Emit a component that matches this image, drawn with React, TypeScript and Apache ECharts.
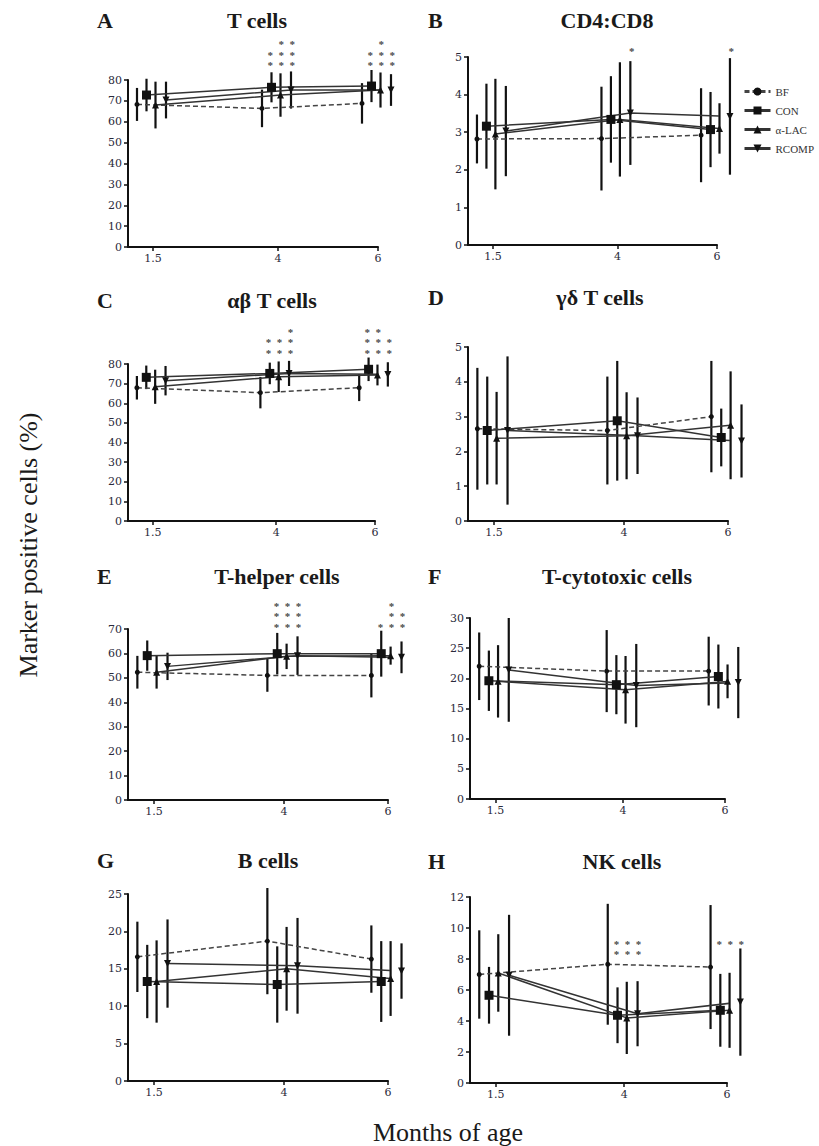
import React, { useEffect, useRef } from 'react';
import * as echarts from 'echarts';

// ---------- data ----------
const months = [1.5, 4, 6];
const monthTicks = [1.5, 4, 6];
const groups = ['BF', 'CON', 'α-LAC', 'RCOMP'];

// each: rows = [BF, CON, α-LAC, RCOMP], columns = 1.5, 4, 6 months
const tCellsMean = [[68.3, 66.4, 68.8], [72.8, 76.5, 77.1], [68.0, 72.8, 75.2], [70.4, 75.2, 75.2]];
const tCellsSD = [[7.9, 9.0, 9.7], [7.8, 7.2, 7.7], [11.2, 10.4, 8.4], [8.8, 8.9, 7.6]];

const cd4cd8Mean = [[2.82, 2.83, 2.92], [3.16, 3.34, 3.07], [2.95, 3.34, 3.1], [3.03, 3.51, 3.42]];
const cd4cd8SD = [[0.65, 1.38, 1.25], [1.13, 1.15, 1.0], [1.47, 1.52, 0.67], [1.2, 1.38, 1.55]];

const abMean = [[67.9, 65.4, 67.9], [73.2, 75.2, 77.3], [68.4, 73.5, 74.4], [71.5, 75.2, 74.7]];
const abSD = [[6.0, 8.0, 6.8], [6.0, 5.5, 6.0], [8.7, 7.8, 5.3], [7.5, 6.4, 6.2]];

const gdMean = [[2.65, 2.6, 3.0], [2.6, 2.88, 2.4], [2.38, 2.45, 2.75], [2.6, 2.45, 2.3]];
const gdSD = [[1.75, 1.55, 1.6], [1.55, 1.72, 0.83], [1.33, 1.25, 1.55], [2.13, 1.1, 1.05]];

const thMean = [[52.3, 51.0, 51.0], [59.1, 59.9, 59.9], [52.3, 58.8, 59.1], [54.7, 59.1, 58.4]];
const thSD = [[6.7, 6.7, 9.0], [6.2, 8.5, 9.4], [6.7, 5.2, 3.7], [5.6, 7.9, 6.5]];

const tcMean = [[22.0, 21.2, 21.2], [19.6, 18.95, 20.3], [19.5, 18.1, 19.5], [21.4, 18.8, 19.3]];
const tcSD = [[5.6, 6.8, 5.7], [5.0, 4.9, 5.3], [6.0, 5.6, 2.8], [8.6, 6.9, 5.9]];

const bMean = [[16.6, 18.7, 16.3], [13.3, 12.9, 13.3], [13.3, 15.0, 13.7], [15.7, 15.4, 14.7]];
const bSD = [[4.7, 7.1, 4.5], [4.9, 5.1, 5.4], [5.5, 5.6, 5.0], [5.9, 6.4, 3.7]];

const nkMean = [[7.0, 7.66, 7.48], [5.66, 4.37, 4.69], [7.1, 4.2, 4.69], [6.95, 4.47, 5.22]];
const nkSD = [[2.85, 3.9, 4.0], [1.83, 1.8, 2.35], [2.5, 2.33, 2.42], [3.9, 2.1, 3.46]];

// significance vs BF: [month, value of lowest star row, stars CON, stars α-LAC, stars RCOMP]
const tCellsStars = [[4, 88.3, 2, 3, 3], [6, 88.3, 2, 3, 2]];
const cd4cd8Stars = [[4, 5.22, 0, 0, 1], [6, 5.22, 0, 0, 1]];
const abStars = [[4, 87.1, 2, 2, 3], [6, 87.1, 3, 3, 2]];
const thStars = [[4, 72.1, 3, 3, 3], [6, 72.1, 1, 3, 2]];
const nkStars = [[4, 8.5, 2, 2, 2], [6, 9.16, 1, 1, 1]];
const noStars: number[][] = [];

// ---------- layout / style ----------
const groupOffsets = [-0.32, -0.13, 0.05, 0.26];
const SERIF = 'Liberation Serif';
const EN_SPACE = '\u2002';

const panels = [
  { letter: 'A', title: 'T cells', grid: { left: 128, top: 80, width: 250, height: 167 }, ymax: 80, yint: 10, mean: tCellsMean, sd: tCellsSD, stars: tCellsStars, tx: 257, ty: 20, lx: 97 },
  { letter: 'B', title: 'CD4:CD8', grid: { left: 468, top: 57, width: 249, height: 188 }, ymax: 5, yint: 1, mean: cd4cd8Mean, sd: cd4cd8SD, stars: cd4cd8Stars, tx: 607, ty: 20, lx: 428 },
  { letter: 'C', title: 'αβ T cells', grid: { left: 128, top: 364, width: 247, height: 157 }, ymax: 80, yint: 10, mean: abMean, sd: abSD, stars: abStars, tx: 272, ty: 300, lx: 97 },
  { letter: 'D', title: 'γδ T cells', grid: { left: 468, top: 347, width: 260, height: 174 }, ymax: 5, yint: 1, mean: gdMean, sd: gdSD, stars: noStars, tx: 600, ty: 297, lx: 428 },
  { letter: 'E', title: 'T-helper cells', grid: { left: 128, top: 629, width: 260, height: 171 }, ymax: 70, yint: 10, mean: thMean, sd: thSD, stars: thStars, tx: 277, ty: 576, lx: 97 },
  { letter: 'F', title: 'T-cytotoxic cells', grid: { left: 470, top: 618, width: 255, height: 181 }, ymax: 30, yint: 5, mean: tcMean, sd: tcSD, stars: noStars, tx: 617, ty: 576, lx: 428 },
  { letter: 'G', title: 'B cells', grid: { left: 128, top: 894, width: 260, height: 187 }, ymax: 25, yint: 5, mean: bMean, sd: bSD, stars: noStars, tx: 268, ty: 860, lx: 97 },
  { letter: 'H', title: 'NK cells', grid: { left: 470, top: 897, width: 257, height: 186 }, ymax: 12, yint: 2, mean: nkMean, sd: nkSD, stars: nkStars, tx: 622, ty: 861, lx: 428 },
];

const symbols = [
  { symbol: 'circle', size: 5, rotate: 0 },
  { symbol: 'rect', size: 9, rotate: 0 },
  { symbol: 'triangle', size: 7, rotate: 0 },
  { symbol: 'triangle', size: 7, rotate: 180 },
];

function errorBar(params: any, api: any) {
  const x = api.value(0);
  const p1 = api.coord([x, api.value(1)]);
  const p2 = api.coord([x, api.value(2)]);
  return {
    type: 'line',
    shape: { x1: p1[0], y1: p1[1], x2: p2[0], y2: p2[1] },
    style: { stroke: '#111', lineWidth: 2.2 },
  };
}

// build stacked star rows: columns CON, α-LAC, RCOMP
function starText(counts: number[]) {
  const maxN = Math.max(...counts);
  const rows: string[] = [];
  for (let r = maxN; r >= 1; r--) {
    rows.push(counts.map((n) => (n >= r ? '*' : EN_SPACE)).join(EN_SPACE));
  }
  return rows.join('\n');
}

export default function App() {
  const ref = useRef<HTMLDivElement>(null);

  useEffect(() => {
    const chart = echarts.init(ref.current!, null, { renderer: 'svg' });
    const grids: any[] = [];
    const xAxes: any[] = [];
    const yAxes: any[] = [];
    const series: any[] = [];
    const graphics: any[] = [];
    const axisColor = '#111';
    const labelStyle = { fontFamily: 'DejaVu Serif', fontSize: 11, color: '#2a2a3a' };

    panels.forEach((p, i) => {
      grids.push({ ...p.grid });
      xAxes.push({
        type: 'value', gridIndex: i, min: 1, max: 6,
        axisLine: { show: true, onZero: false, lineStyle: { color: axisColor, width: 2 } },
        axisTick: { show: true, customValues: monthTicks, length: 4, lineStyle: { color: axisColor, width: 1.5 } },
        axisLabel: { show: true, customValues: monthTicks, margin: 6, ...labelStyle },
        splitLine: { show: false },
      });
      yAxes.push({
        type: 'value', gridIndex: i, min: 0, max: p.ymax, interval: p.yint,
        axisLine: { show: true, lineStyle: { color: axisColor, width: 2 } },
        axisTick: { show: true, length: 4, lineStyle: { color: axisColor, width: 1.5 } },
        axisLabel: { show: true, margin: 6, ...labelStyle },
        splitLine: { show: false },
      });

      groups.forEach((g, gi) => {
        const xs = months.map((m) => m + groupOffsets[gi]);
        series.push({
          type: 'custom', name: g + ' SD', xAxisIndex: i, yAxisIndex: i, clip: false, silent: true,
          renderItem: errorBar,
          encode: { x: 0, y: [1, 2] },
          data: xs.map((x, k) => [x, p.mean[gi][k] - p.sd[gi][k], p.mean[gi][k] + p.sd[gi][k]]),
          z: 2,
        });
        series.push({
          type: 'line', name: g, xAxisIndex: i, yAxisIndex: i, clip: false, silent: true,
          data: xs.map((x, k) => [x, p.mean[gi][k]]),
          symbol: symbols[gi].symbol, symbolSize: symbols[gi].size, symbolRotate: symbols[gi].rotate,
          showSymbol: true,
          itemStyle: { color: '#111' },
          lineStyle: gi === 0
            ? { color: '#444', width: 1.5, type: [5, 3] }
            : { color: '#333', width: 1.5 },
          z: 3,
        });
      });

      if (p.stars.length) {
        const mid = (groupOffsets[1] + groupOffsets[3]) / 2;
        series.push({
          type: 'scatter', name: 'stars', xAxisIndex: i, yAxisIndex: i, clip: false, silent: true,
          symbolSize: 0,
          data: p.stars.map((s) => ({
            value: [s[0] + mid, s[1]],
            label: { formatter: starText([s[2], s[3], s[4]]) },
          })),
          label: {
            show: true, position: 'top', distance: 0, offset: [0, 8],
            fontFamily: SERIF, fontSize: 11, fontWeight: 'bold', lineHeight: 10.5, color: '#111', align: 'center',
          },
          z: 4,
        });
      }

      graphics.push({
        type: 'text', x: p.tx, y: p.ty,
        style: { text: p.title, font: `bold 22px "${SERIF}"`, fill: '#1a1a1a', align: 'center', verticalAlign: 'middle' },
      });
      graphics.push({
        type: 'text', x: p.lx, y: p.ty,
        style: { text: p.letter, font: `bold 22px "${SERIF}"`, fill: '#1a1a1a', align: 'left', verticalAlign: 'middle' },
      });
    });

    graphics.push({
      type: 'text', x: 28, y: 545, rotation: Math.PI / 2,
      style: { text: 'Marker positive cells (%)', font: `26px "${SERIF}"`, fill: '#1a1a1a', align: 'center', verticalAlign: 'middle' },
    });
    graphics.push({
      type: 'text', x: 448, y: 1132,
      style: { text: 'Months of age', font: `26px "${SERIF}"`, fill: '#1a1a1a', align: 'center', verticalAlign: 'middle' },
    });

    chart.setOption({
      animation: false,
      backgroundColor: '#fff',
      grid: grids,
      xAxis: xAxes,
      yAxis: yAxes,
      series,
      graphic: graphics,
      legend: {
        data: groups,
        orient: 'vertical',
        left: 743,
        top: 86,
        padding: 0,
        itemWidth: 26,
        itemHeight: 10,
        itemGap: 8,
        selectedMode: false,
        lineStyle: { width: 3 },
        textStyle: { fontFamily: SERIF, fontSize: 11, color: '#333' },
      },
    });

    return () => chart.dispose();
  }, []);

  return <div ref={ref} style={{ position: 'absolute', left: 0, top: 0, width: 819, height: 1146 }} />;
}
